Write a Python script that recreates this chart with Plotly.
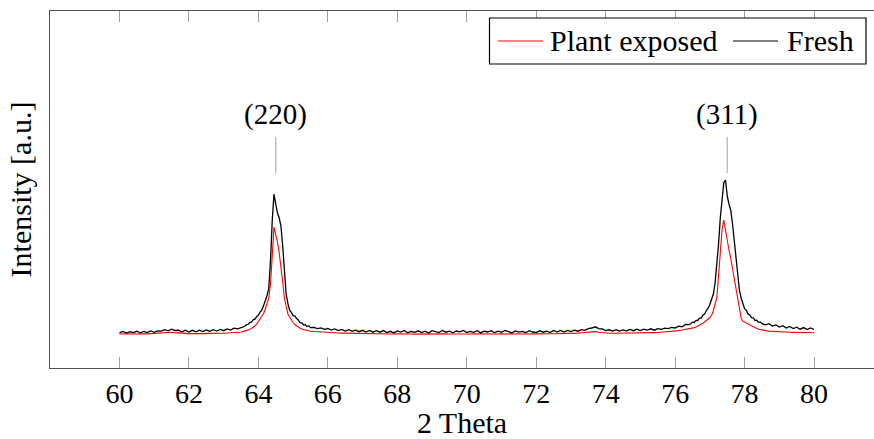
import numpy as np
import plotly.graph_objects as go

# ---------------- data (intensity, arbitrary units) ----------------
# grid segments: (start, step)
seg_start = [60.0, 63.5, 65.6, 76.45, 78.6]
seg_step = [0.1, 0.05, 0.1, 0.05, 0.1]

fresh_s1 = [35.2, 36.6, 35.0, 36.4, 35.3, 36.9, 35.2, 36.5, 35.4, 37.0,
            35.7, 37.2, 36.8, 38.4, 37.2, 38.9, 37.5, 37.8, 36.2, 37.8,
            36.0, 37.7, 36.2, 37.9, 36.4, 38.1, 36.6, 38.3, 36.9, 38.6,
            37.3, 39.1, 38.0, 39.9, 39.1]
fresh_s2 = [40.5, 41.6, 41.5, 43.2, 43.6, 45.4, 45.9, 48.1, 48.8, 51.4,
            52.6, 56.0, 58.1, 62.5, 66.6, 72.4, 80.0,
            108, 148, 174, 164, 155, 150, 142, 122, 94, 74,
            64.6, 57.9, 55.6, 52.4, 52.1, 49.4, 48.1, 45.2, 45.2, 43.0,
            43.4, 41.5, 42.1, 40.4]
fresh_s3 = [40.6, 39.4, 40.1, 38.6, 39.5, 37.9, 39.0, 37.5, 38.6, 37.0,
            38.4, 36.7, 37.9, 36.3, 37.7, 36.0, 37.5, 35.8, 37.3, 35.8,
            37.4, 35.4, 36.7, 35.1, 37.1, 36.0, 37.6, 35.3, 36.5, 35.6,
            37.2, 35.5, 36.9, 35.0, 37.3, 36.2, 35.4, 37.5, 35.8, 36.8,
            35.2, 37.0, 36.1, 37.6, 35.4, 36.6, 35.7, 37.3, 35.1, 36.9,
            36.0, 37.4, 35.3, 36.8, 35.6, 37.5, 36.2, 35.2, 37.1, 35.9,
            36.6, 35.3, 37.4, 36.0, 35.5, 37.2, 35.8, 36.9, 35.4, 37.5,
            35.9, 37.6, 36.0, 37.5, 36.5, 37.9, 36.8, 38.4, 37.6, 39.4,
            40.0, 41.2, 39.4, 39.0, 37.4, 38.2, 37.0, 38.4, 36.9, 38.0,
            37.2, 38.6, 37.3, 38.9, 37.5, 38.8, 37.9, 39.2, 37.8, 39.3,
            38.6, 39.8, 39.3, 40.6, 40.0, 41.8, 41.3, 43.5, 43.4]
fresh_s4 = [44.2, 45.9, 45.5, 47.6, 47.5, 49.9, 49.9, 53.1, 54.0, 57.5,
            59.8, 63.5, 68.0, 74.0, 85, 102, 124, 150, 170, 185,
            188, 172, 164, 158, 145, 128, 111, 92, 78, 70,
            64.6, 59.4, 57.6, 53.9, 53.1, 50.4, 50.1, 47.7, 47.8, 45.7,
            46.1, 44.3]
fresh_s5 = [43.2, 44.3, 42.0, 43.0, 41.0, 42.3, 40.0, 41.5, 39.5, 40.9,
            38.8, 40.4, 38.4, 40.0, 38.5]

plant_s1 = [34.0, 34.2, 33.9, 34.1, 34.0, 34.3, 34.0, 34.2, 34.1, 34.4,
            34.3, 34.6, 34.9, 35.4, 35.7, 35.8, 35.4, 35.0, 34.7, 34.6,
            34.4, 34.5, 34.3, 34.5, 34.4, 34.6, 34.5, 34.7, 34.6, 34.8,
            34.8, 35.0, 35.1, 35.4, 35.6]
plant_s2 = [36.0, 36.4, 36.8, 37.3, 37.9, 38.6, 39.5, 40.6, 42.0, 43.8,
            46.5, 48.5, 51.0, 54.5, 59.0, 64.0, 70.0,
            84, 120, 141, 133, 126, 115, 103, 86, 70, 60,
            54, 51, 48, 45.5, 43.5, 42, 40.8, 39.8, 39.0, 38.4,
            37.9, 37.5, 37.1, 36.8]
plant_s3 = [36.5, 36.2, 35.9, 35.7, 35.5, 35.3, 35.1, 35.0, 34.9, 34.8,
            34.7, 34.6, 34.5, 34.5, 34.4, 34.3, 34.3, 34.2, 34.2, 34.1,
            34.1, 34.0, 34.1, 34.0, 34.1, 33.9, 34.0, 34.1, 34.0, 33.9,
            34.0, 34.1, 33.9, 34.0, 34.1, 34.0, 33.9, 34.0, 34.1, 34.0,
            33.9, 34.0, 34.1, 34.0, 33.9, 34.0, 34.1, 34.0, 33.9, 34.0,
            34.1, 34.0, 33.9, 34.0, 34.1, 34.0, 34.0, 33.9, 34.0, 34.1,
            34.0, 34.1, 34.0, 34.1, 34.0, 34.2, 34.1, 34.2, 34.2, 34.3,
            34.3, 34.4, 34.4, 34.5, 34.6, 34.7, 34.9, 35.2, 35.6, 36.1,
            36.5, 36.4, 35.8, 35.3, 35.0, 34.8, 34.7, 34.7, 34.7, 34.8,
            34.8, 34.9, 34.9, 35.0, 35.0, 35.1, 35.2, 35.3, 35.4, 35.5,
            35.7, 35.9, 36.2, 36.5, 36.9, 37.4, 38.0, 38.7, 39.5]
plant_s4 = [39.2, 39.8, 40.4, 41.1, 41.9, 42.8, 43.8, 44.8, 46.0, 47.3,
            49.0, 50.5, 52.5, 57, 64, 70, 92, 118, 138, 148,
            137, 126, 118, 110, 100, 88, 77, 66, 56, 50,
            46.8, 45.8, 44.9, 44.0, 43.0, 42.0, 41.0, 40.2, 39.5, 38.9,
            38.4, 38.0]
plant_s5 = [37.4, 36.9, 36.6, 36.3, 36.1, 35.9, 35.8, 35.7, 35.6, 35.5,
            35.5, 35.4, 35.4, 35.3, 35.3]

series_names = ["Plant exposed", "Fresh"]
series_colors = ["#ff0000", "#000000"]
series_widths = [1.1, 1.3]
peak_labels = ["(220)", "(311)"]
peak_positions = [64.5, 77.5]
x_ticks = list(range(60, 81, 2))


def build(segments):
    xs, ys = [], []
    for start, step, vals in zip(seg_start, seg_step, segments):
        for i, v in enumerate(vals):
            xs.append(round(start + i * step, 3))
            ys.append(v)
    return xs, ys


x_plant, y_plant = build([plant_s1, plant_s2, plant_s3, plant_s4, plant_s5])
x_fresh, y_fresh = build([fresh_s1, fresh_s2, fresh_s3, fresh_s4, fresh_s5])

FONT = "Liberation Serif"
FS_TICK = 28
FS_TEXT = 30

fig = go.Figure()
for name, color, lw, xs, ys in zip(series_names, series_colors, series_widths,
                                   [x_plant, x_fresh], [y_plant, y_fresh]):
    fig.add_trace(go.Scatter(x=xs, y=ys, mode="lines", name=name,
                             line=dict(color=color, width=lw),
                             showlegend=False))

# peak labels with gray pins
for lab, pos in zip(peak_labels, peak_positions):
    fig.add_shape(type="line", xref="x", yref="y", x0=pos, x1=pos,
                  y0=195, y1=231, line=dict(color="#b0b0b0", width=1.2))
    fig.add_annotation(x=pos, y=254, xref="x", yref="y", text=lab,
                       showarrow=False, yanchor="middle",
                       font=dict(family=FONT, size=29, color="black"))

# manual legend (pgfplots style)
W, H = 874, 439
ml, mr, mt, mb = 50, 0, 11, 71
pw, ph = W - ml - mr, H - mt - mb


def px(xp):
    return (xp - ml) / pw


def py(yp):
    return 1 - (yp - mt) / ph


fig.add_shape(type="rect", xref="paper", yref="paper",
              x0=px(489.5), x1=px(866), y0=py(64), y1=py(18),
              line=dict(color="black", width=1.2), fillcolor="white", layer="above")
leg_items = [(498, 543, 548), (733, 778, 785)]
for (lx0, lx1, tx), name, color in zip(leg_items, series_names, series_colors):
    fig.add_shape(type="line", xref="paper", yref="paper",
                  x0=px(lx0), x1=px(lx1), y0=py(41), y1=py(41),
                  line=dict(color=color, width=1.1), layer="above")
    fig.add_annotation(x=px(tx), y=py(40.5), xref="paper", yref="paper",
                       text=name, showarrow=False, xanchor="left",
                       yanchor="middle",
                       font=dict(family=FONT, size=FS_TEXT, color="black"))

fig.update_layout(
    width=W, height=H,
    margin=dict(l=ml, r=mr, t=mt, b=mb),
    paper_bgcolor="white", plot_bgcolor="white",
    font=dict(family=FONT, size=FS_TICK, color="black"),
    showlegend=False,
)
fig.update_xaxes(
    range=[58, 58 + pw / 34.73],
    tickvals=x_ticks, ticktext=[str(t) for t in x_ticks],
    ticks="inside", ticklen=11, tickwidth=1.2, tickcolor="#a0a0a0",
    showline=True, linecolor="#505050", linewidth=1.3, mirror="ticks",
    showgrid=False, zeroline=False,
    tickfont=dict(family=FONT, size=FS_TICK, color="black"),
    title=dict(text="2 Theta", font=dict(family=FONT, size=FS_TEXT), standoff=7),
)
fig.update_yaxes(
    range=[0, ph],
    showticklabels=False, ticks="",
    showline=True, linecolor="#505050", linewidth=1.3, mirror=False,
    showgrid=False, zeroline=False,
    title=dict(text="Intensity [a.u.]", font=dict(family=FONT, size=FS_TEXT), standoff=8),
)

fig.write_html("out.html")
